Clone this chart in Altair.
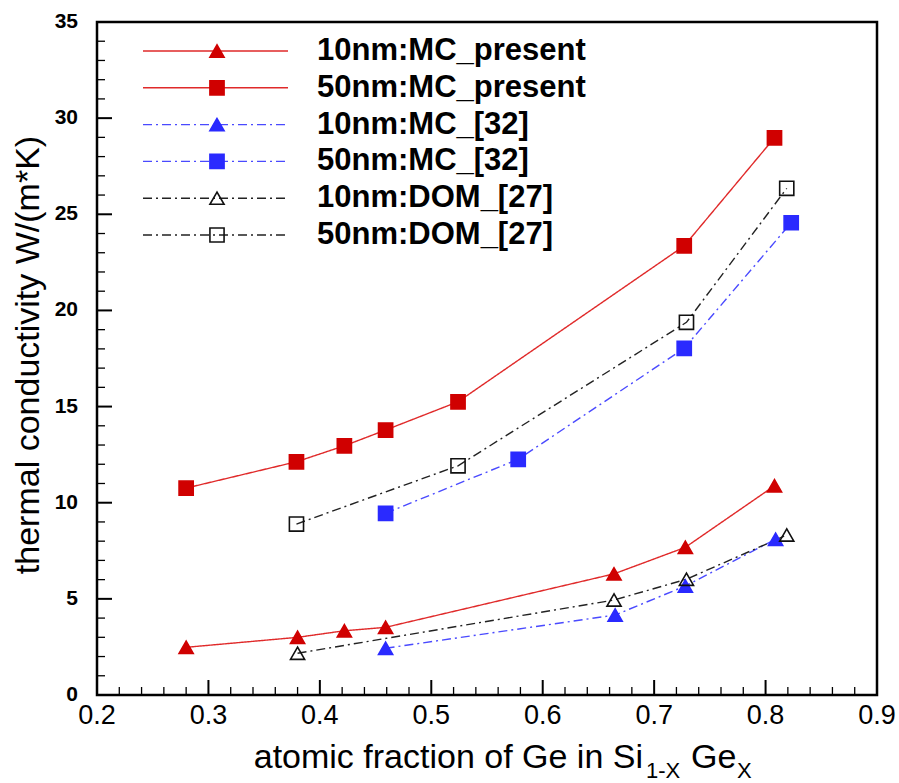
import altair as alt
import pandas as pd

# ---------------- data ----------------
series_names = ["10nm:MC_present", "50nm:MC_present", "10nm:MC_[32]",
                "50nm:MC_[32]", "10nm:DOM_[27]", "50nm:DOM_[27]"]

x_10nm_mc_present = [0.28, 0.38, 0.422, 0.459, 0.664, 0.728, 0.808]
y_10nm_mc_present = [2.48, 3.00, 3.34, 3.52, 6.30, 7.68, 10.88]

x_50nm_mc_present = [0.28, 0.379, 0.422, 0.459, 0.524, 0.727, 0.808]
y_50nm_mc_present = [10.76, 12.13, 12.96, 13.78, 15.25, 23.36, 28.98]

x_10nm_mc_32 = [0.459, 0.665, 0.728, 0.809]
y_10nm_mc_32 = [2.43, 4.16, 5.67, 8.10]

x_50nm_mc_32 = [0.459, 0.578, 0.727, 0.823]
y_50nm_mc_32 = [9.45, 12.26, 18.03, 24.56]

x_10nm_dom_27 = [0.38, 0.664, 0.729, 0.819]
y_10nm_dom_27 = [2.17, 4.94, 6.02, 8.32]

x_50nm_dom_27 = [0.379, 0.524, 0.729, 0.819]
y_50nm_dom_27 = [8.89, 11.92, 19.38, 26.35]

x_major_ticks = [0.2, 0.3, 0.4, 0.5, 0.6, 0.7, 0.8, 0.9]
x_tick_labels = ["0.2", "0.3", "0.4", "0.5", "0.6", "0.7", "0.8", "0.9"]
x_minor_ticks = [round(0.2 + 0.02 * i, 2) for i in range(36) if i % 5 != 0]
y_major_ticks = [0, 5, 10, 15, 20, 25, 30, 35]
y_tick_labels = ["0", "5", "10", "15", "20", "25", "30", "35"]
y_minor_ticks = [v for v in range(0, 36) if v % 5 != 0]

x_title_main = "atomic fraction of Ge in Si"
x_title_sub1 = "1-X"
x_title_ge = "Ge"
x_title_sub2 = "X"
y_title = "thermal conductivity W/(m*K)"

# ---------------- build tables ----------------
xs = [x_10nm_mc_present, x_50nm_mc_present, x_10nm_mc_32, x_50nm_mc_32, x_10nm_dom_27, x_50nm_dom_27]
ys = [y_10nm_mc_present, y_50nm_mc_present, y_10nm_mc_32, y_50nm_mc_32, y_10nm_dom_27, y_50nm_dom_27]
rows = []
for name, xv, yv in zip(series_names, xs, ys):
    for a, b in zip(xv, yv):
        rows.append({"series": name, "x": a, "y": b})
df = pd.DataFrame(rows)
legend_df = pd.DataFrame({"series": series_names})

xmaj_df = pd.DataFrame({"x": x_major_ticks, "label": x_tick_labels})
xmin_df = pd.DataFrame({"x": x_minor_ticks})
ymaj_df = pd.DataFrame({"y": y_major_ticks, "label": y_tick_labels})
ymin_df = pd.DataFrame({"y": y_minor_ticks})

W, H = 780, 673
FONT = "Liberation Sans"

RED_LINE = "#e02a2a"
RED_MARK = "#d00000"
BLUE_LINE = "#4a4aff"
BLUE_MARK = "#2a2aff"
BLACK_LINE = "#222222"

line_color = alt.Scale(domain=series_names,
                       range=[RED_LINE, RED_LINE, BLUE_LINE, BLUE_LINE, BLACK_LINE, BLACK_LINE])
dash_scale = alt.Scale(domain=series_names,
                       range=[[1, 0], [1, 0], [9, 4, 2, 4], [9, 4, 2, 4], [9, 4, 2, 4], [9, 4, 2, 4]])
shape_scale = alt.Scale(domain=series_names,
                        range=["triangle-up", "square", "triangle-up", "square", "triangle-up", "square"])
fill_scale = alt.Scale(domain=series_names,
                       range=[RED_MARK, RED_MARK, BLUE_MARK, BLUE_MARK, "transparent", "transparent"])
stroke_scale = alt.Scale(domain=series_names,
                         range=[RED_MARK, RED_MARK, BLUE_MARK, BLUE_MARK, "#111111", "#111111"])

xscale = alt.Scale(domain=[0.2, 0.9], nice=False, zero=False)
yscale = alt.Scale(domain=[0, 35], nice=False, zero=True)

X = alt.X("x:Q", scale=xscale, axis=None)
Y = alt.Y("y:Q", scale=yscale, axis=None)

lines = alt.Chart(df).mark_line(strokeWidth=1.4).encode(
    x=X, y=Y,
    color=alt.Color("series:N", scale=line_color, legend=None),
    strokeDash=alt.StrokeDash("series:N", scale=dash_scale, legend=None),
    detail="series:N",
)

points = alt.Chart(df).mark_point(filled=True, size=200, strokeWidth=1.6, opacity=1).encode(
    x=X, y=Y,
    shape=alt.Shape("series:N", scale=shape_scale, legend=None),
    fill=alt.Fill("series:N", scale=fill_scale, legend=None),
    stroke=alt.Stroke("series:N", scale=stroke_scale, legend=None),
)

# ---------------- inward ticks (symbol strokes placed through the scales) ----------------
# custom symbol paths: length = sqrt(size) pixels
UP = "M0,0V-2"     # vertical stroke pointing up from the bottom edge
RIGHT = "M0,0H2"   # horizontal stroke pointing right from the left edge

xmaj = alt.Chart(xmaj_df).mark_point(shape=UP, size=225, filled=False, strokeWidth=2,
                                     color="black", opacity=1).encode(x=X, y=alt.value(H))
xmin = alt.Chart(xmin_df).mark_point(shape=UP, size=64, filled=False, strokeWidth=1.3,
                                     color="black", opacity=1).encode(x=X, y=alt.value(H))
ymaj = alt.Chart(ymaj_df).mark_point(shape=RIGHT, size=225, filled=False, strokeWidth=2,
                                     color="black", opacity=1).encode(y=Y, x=alt.value(0))
ymin = alt.Chart(ymin_df).mark_point(shape=RIGHT, size=64, filled=False, strokeWidth=1.3,
                                     color="black", opacity=1).encode(y=Y, x=alt.value(0))

xlab = alt.Chart(xmaj_df).mark_text(align="center", baseline="top", font=FONT,
                                     fontSize=27, color="black").encode(
    x=X, y=alt.value(H + 8), text="label:N")
ylab = alt.Chart(ymaj_df).mark_text(align="right", baseline="middle", font=FONT,
                                     fontSize=21, fontWeight="bold", color="black").encode(
    y=Y, x=alt.value(-19), text="label:N")

# ---------------- legend (drawn inside plot, one row per series) ----------------
legend_layers = []
row_top, row_step = 29, 36.8
for i, name in enumerate(series_names):
    ypx = row_top + i * row_step
    base = alt.Chart(legend_df).transform_filter(alt.datum.series == name)
    legend_layers.append(base.mark_rule(strokeWidth=1.4).encode(
        x=alt.value(46), x2=alt.value(191), y=alt.value(ypx),
        color=alt.Color("series:N", scale=line_color, legend=None),
        strokeDash=alt.StrokeDash("series:N", scale=dash_scale, legend=None),
    ))
    legend_layers.append(base.mark_point(filled=True, size=200, strokeWidth=1.6, opacity=1).encode(
        x=alt.value(120), y=alt.value(ypx),
        shape=alt.Shape("series:N", scale=shape_scale, legend=None),
        fill=alt.Fill("series:N", scale=fill_scale, legend=None),
        stroke=alt.Stroke("series:N", scale=stroke_scale, legend=None),
    ))
    legend_layers.append(base.mark_text(align="left", baseline="middle", font=FONT,
                                        fontSize=31, fontWeight="bold", color="black").encode(
        x=alt.value(220), y=alt.value(ypx), text="series:N",
    ))

# ---------------- axis titles ----------------
t_main = alt.Chart(pd.DataFrame({"t": [x_title_main]})).mark_text(
    align="right", baseline="alphabetic", font=FONT, fontSize=34, color="black").encode(
    x=alt.value(546), y=alt.value(746), text="t:N")
t_sub1 = alt.Chart(pd.DataFrame({"t": [x_title_sub1]})).mark_text(
    align="left", baseline="alphabetic", font=FONT, fontSize=22, color="black").encode(
    x=alt.value(549), y=alt.value(756), text="t:N")
t_ge = alt.Chart(pd.DataFrame({"t": [x_title_ge]})).mark_text(
    align="left", baseline="alphabetic", font=FONT, fontSize=34, color="black").encode(
    x=alt.value(594), y=alt.value(746), text="t:N")
t_sub2 = alt.Chart(pd.DataFrame({"t": [x_title_sub2]})).mark_text(
    align="left", baseline="alphabetic", font=FONT, fontSize=22, color="black").encode(
    x=alt.value(640), y=alt.value(756), text="t:N")
t_y = alt.Chart(pd.DataFrame({"t": [y_title]})).mark_text(
    align="center", baseline="middle", angle=270, font=FONT, fontSize=34, color="black").encode(
    x=alt.value(-68), y=alt.value(333), text="t:N")

chart = alt.layer(
    lines, points, xmaj, xmin, ymaj, ymin, xlab, ylab, *legend_layers,
    t_main, t_sub1, t_ge, t_sub2, t_y
).properties(
    width=W, height=H,
    padding={"left": 97, "top": 22, "right": 22, "bottom": 88},
    autosize=alt.AutoSizeParams(type="none"),
    background="white",
).configure_view(
    stroke="black", strokeWidth=2.5
)

chart.save("out.html", embed_options={"renderer": "svg", "actions": False})
